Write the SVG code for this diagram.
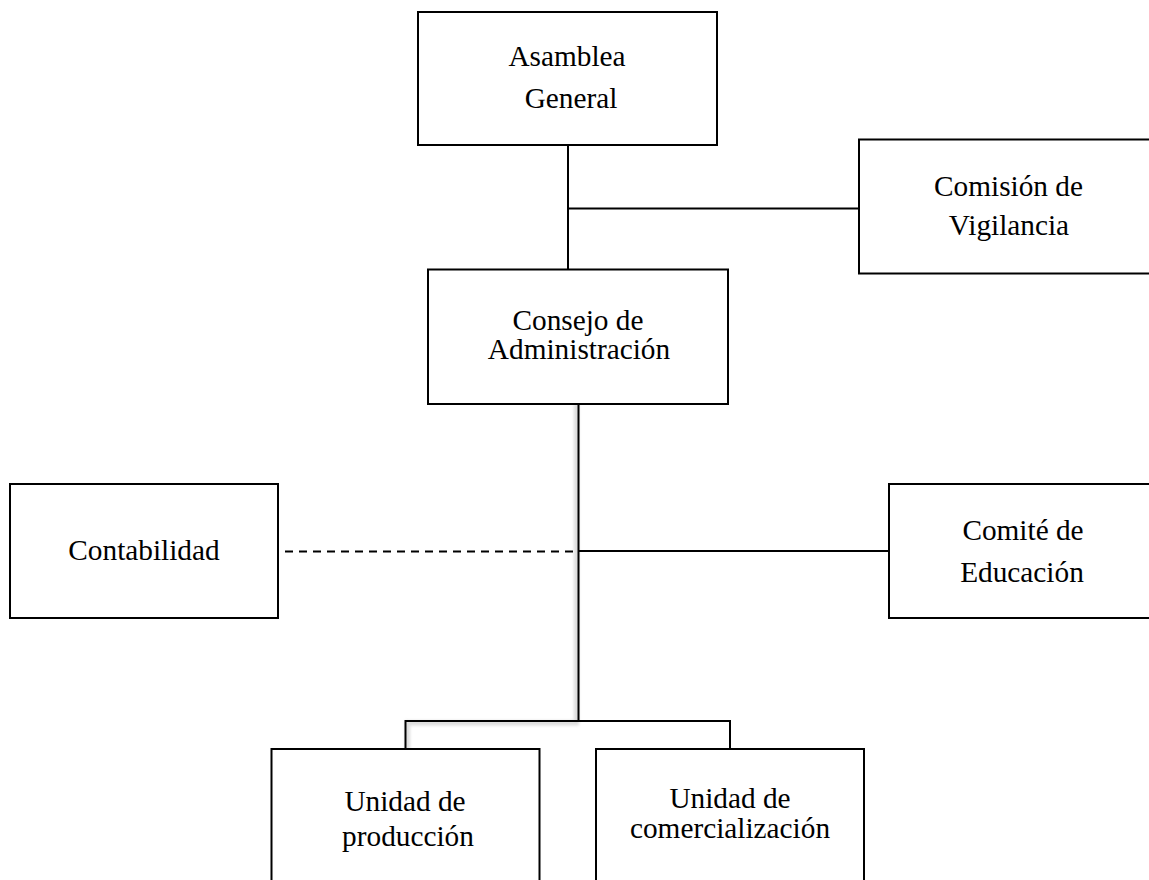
<svg xmlns="http://www.w3.org/2000/svg" width="1149" height="880" viewBox="0 0 1149 880">
  <style>
    .box { fill: #ffffff; stroke: #000000; stroke-width: 2; }
    .lbl { font-family: "Liberation Serif", "Times New Roman", serif; font-size: 29.3px; fill: #000000; text-anchor: middle; }
    .ln { fill: none; stroke: #000000; stroke-width: 2; }
    .dash { fill: none; stroke: #000000; stroke-width: 2; stroke-dasharray: 8 6; }
    .shadow { fill: none; stroke: #9a9a9a; stroke-width: 5; opacity: 0.35; }
  </style>
  <defs>
    <filter id="blur" x="-20%" y="-20%" width="140%" height="140%">
      <feGaussianBlur stdDeviation="1.6"/>
    </filter>
  </defs>
  <rect width="1149" height="880" fill="#ffffff"/>

  <g id="connectors">
    <path class="shadow" filter="url(#blur)" d="M576.5,404 V723 H407.5 V749"/>
    <path class="ln" d="M568,145 V269.5"/>
    <path class="ln" d="M568,208.5 H859"/>
    <path class="ln" d="M578.5,404 V721 H405.5 V749"/>
    <path class="ln" d="M578.5,721 H730 V749"/>
    <path class="dash" d="M285,551.5 H577"/>
    <path class="ln" d="M579,551 H889"/>
  </g>

  <g id="asamblea-general">
    <rect class="box" x="418" y="12" width="299" height="133"/>
    <text class="lbl" x="567" y="65.5">Asamblea</text>
    <text class="lbl" x="571" y="107.5">General</text>
  </g>

  <g id="comision-vigilancia">
    <rect class="box" x="859" y="139.5" width="300" height="134"/>
    <text class="lbl" x="1008.5" y="196">Comisión de</text>
    <text class="lbl" x="1009" y="235">Vigilancia</text>
  </g>

  <g id="consejo-administracion">
    <rect class="box" x="428" y="269.5" width="300" height="134.5"/>
    <text class="lbl" x="578" y="330">Consejo de</text>
    <text class="lbl" x="579" y="359">Administración</text>
  </g>

  <g id="contabilidad">
    <rect class="box" x="10" y="484" width="268" height="134"/>
    <text class="lbl" x="144" y="560">Contabilidad</text>
  </g>

  <g id="comite-educacion">
    <rect class="box" x="889" y="484" width="300" height="134"/>
    <text class="lbl" x="1023" y="539.5">Comité de</text>
    <text class="lbl" x="1022" y="581.5">Educación</text>
  </g>

  <g id="unidad-produccion">
    <rect class="box" x="271.5" y="749" width="268" height="140"/>
    <text class="lbl" x="405" y="811">Unidad de</text>
    <text class="lbl" x="408" y="846">producción</text>
  </g>

  <g id="unidad-comercializacion">
    <rect class="box" x="596" y="749" width="268" height="140"/>
    <text class="lbl" x="730" y="808">Unidad de</text>
    <text class="lbl" x="730" y="838">comercialización</text>
  </g>
</svg>
